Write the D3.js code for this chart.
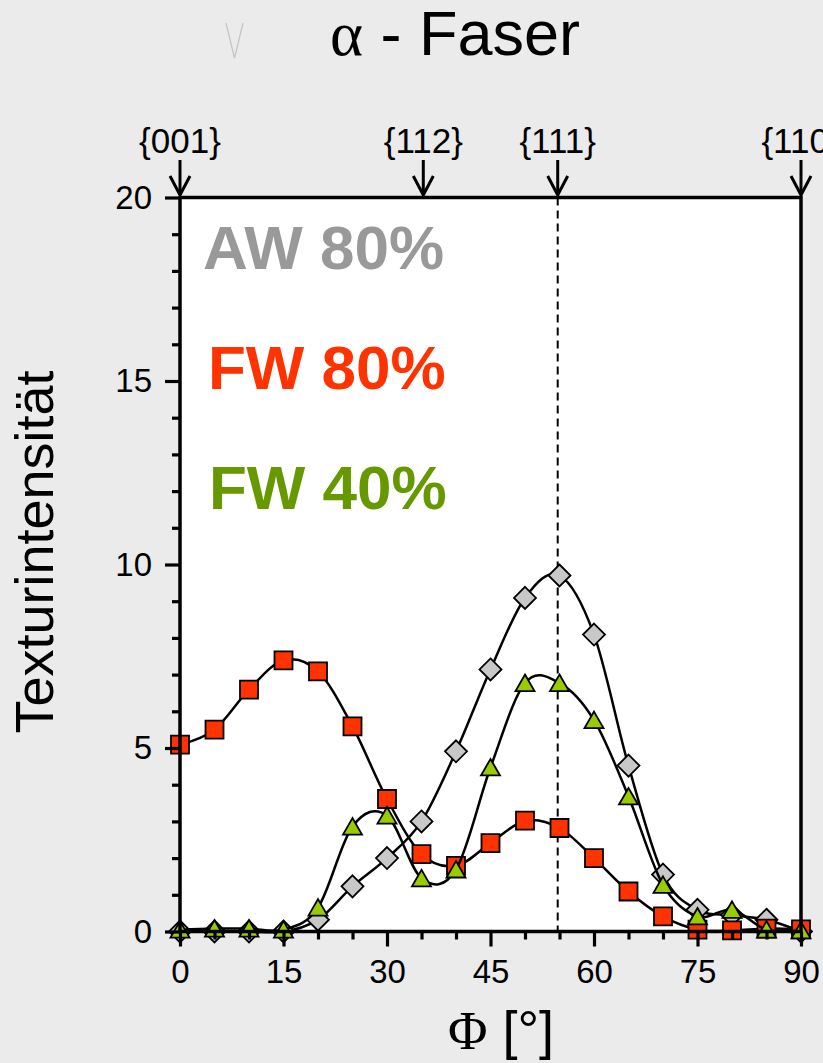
<!DOCTYPE html>
<html>
<head>
<meta charset="utf-8">
<script src="https://cdn.jsdelivr.net/npm/d3@7"></script>
<style>
  body { margin: 0; background: #ebebeb; }
  svg { display: block; font-family: "Liberation Sans", Arial, sans-serif; }
</style>
</head>
<body>
<script>
// data (Phi in degrees, texture intensity)
const phi = [0, 5, 10, 15, 20, 25, 30, 35, 40, 45, 50, 55, 60, 65, 70, 75, 80, 85, 90];
const aw80 = [0, 0, 0, 0, 0.32, 1.23, 2.0, 3.0, 4.91, 7.14, 9.09, 9.7, 8.09, 4.52, 1.55, 0.59, 0.45, 0.32, 0];
const fw80 = [5.09, 5.5, 6.59, 7.39, 7.09, 5.59, 3.61, 2.11, 1.79, 2.41, 3.02, 2.82, 2.0, 1.09, 0.41, 0.05, 0.03, 0.08, 0.06];
const fw40 = [0.05, 0.08, 0.08, 0.05, 0.65, 2.86, 3.16, 1.45, 1.69, 4.47, 6.77, 6.77, 5.76, 3.68, 1.27, 0.41, 0.59, 0.05, 0.03];

const xMajor = [0, 15, 30, 45, 60, 75, 90];
const xMinor = [5, 10, 20, 25, 35, 40, 50, 55, 65, 70, 80, 85];
const yMajor = [0, 5, 10, 15, 20];
const yMinor = [1, 2, 3, 4, 6, 7, 8, 9, 11, 12, 13, 14, 16, 17, 18, 19];

// crystal orientations marked on top
const planes = ["{001}", "{112}", "{111}", "{110}"];
const planeAngles = [0, 35.26, 54.74, 90];

const series = [
  { name: "AW 80%", values: aw80, fill: "#c8c8c8", text: "#999999", shape: "diamond" },
  { name: "FW 80%", values: fw80, fill: "#ff3300", text: "#ff3300", shape: "square" },
  { name: "FW 40%", values: fw40, fill: "#99cc00", text: "#669900", shape: "triangle" }
];

const W = 823, H = 1063;
const plot = { left: 180, right: 801, top: 197.5, bottom: 931.5 };

const svg = d3.select("body").append("svg")
  .attr("width", W)
  .attr("height", H);

const x = d3.scaleLinear().domain([0, 90]).range([plot.left, plot.right]);
const y = d3.scaleLinear().domain([0, 20]).range([plot.bottom, plot.top]);

// title
const title = svg.append("text")
  .attr("x", 330)
  .attr("y", 55)
  .style("font-size", "63px")
  .attr("fill", "#000");
title.append("tspan").style("font-family", "'Liberation Serif', 'Times New Roman', serif").text("α");
title.append("tspan").text(" - Faser");

// faint stray mark left of the title
svg.append("path")
  .attr("d", "M226,23 L234.5,58 L243,23")
  .attr("fill", "none")
  .attr("stroke", "#c4c4c4")
  .attr("stroke-width", 1.2);

// plot background
svg.append("rect")
  .attr("x", plot.left)
  .attr("y", plot.top)
  .attr("width", plot.right - plot.left)
  .attr("height", plot.bottom - plot.top)
  .attr("fill", "#fff");

// dashed line at {111}
svg.append("line")
  .attr("x1", x(planeAngles[2]))
  .attr("x2", x(planeAngles[2]))
  .attr("y1", y(20))
  .attr("y2", y(0))
  .attr("stroke", "#000")
  .attr("stroke-width", 2)
  .attr("stroke-dasharray", "8,5");

// legend texts
const legendY = [269, 389, 509];
const legendX = [203, 208, 209];
series.forEach((s, i) => {
  svg.append("text")
    .attr("x", legendX[i])
    .attr("y", legendY[i])
    .style("font-size", "62px")
    .style("font-weight", "bold")
    .attr("fill", s.text)
    .text(s.name);
});

const line = d3.line()
  .x((d, i) => x(phi[i]))
  .y(d => y(d))
  .curve(d3.curveCardinal.tension(0));

function marker(shape) {
  if (shape === "square") return "M-9,-9H9V9H-9Z";
  if (shape === "diamond") return "M0,-11L11,0L0,11L-11,0Z";
  return "M0,-8.5L9.5,8L-9.5,8Z";
}

series.forEach(s => {
  const g = svg.append("g");
  g.append("path")
    .datum(s.values)
    .attr("d", line)
    .attr("fill", "none")
    .attr("stroke", "#000")
    .attr("stroke-width", 2.5);
  g.selectAll("path.pt")
    .data(s.values)
    .enter()
    .append("path")
    .attr("class", "pt")
    .attr("transform", (d, i) => "translate(" + x(phi[i]) + "," + y(d) + ")")
    .attr("d", marker(s.shape))
    .attr("fill", s.fill)
    .attr("stroke", "#000")
    .attr("stroke-width", 1.8);
});

// frame
svg.append("rect")
  .attr("x", plot.left)
  .attr("y", plot.top)
  .attr("width", plot.right - plot.left)
  .attr("height", plot.bottom - plot.top)
  .attr("fill", "none")
  .attr("stroke", "#000")
  .attr("stroke-width", 3.5);

// x axis ticks
const xMinorAxis = svg.append("g")
  .attr("transform", "translate(0," + plot.bottom + ")")
  .call(d3.axisBottom(x).tickValues(xMinor).tickSize(8).tickSizeOuter(0).tickFormat(""));
const xMajorAxis = svg.append("g")
  .attr("transform", "translate(0," + plot.bottom + ")")
  .call(d3.axisBottom(x).tickValues(xMajor).tickSize(15).tickSizeOuter(0).tickPadding(13));
xMajorAxis.selectAll("text").style("font-size", "33px").attr("fill", "#000");

// y axis ticks
const yMinorAxis = svg.append("g")
  .attr("transform", "translate(" + plot.left + ",0)")
  .call(d3.axisLeft(y).tickValues(yMinor).tickSize(8).tickSizeOuter(0).tickFormat(""));
const yMajorAxis = svg.append("g")
  .attr("transform", "translate(" + plot.left + ",0)")
  .call(d3.axisLeft(y).tickValues(yMajor).tickSize(15).tickSizeOuter(0).tickPadding(13));
yMajorAxis.selectAll("text").style("font-size", "33px").attr("fill", "#000");

[xMinorAxis, xMajorAxis, yMinorAxis, yMajorAxis].forEach(a => {
  a.select(".domain").remove();
  a.selectAll("line").attr("stroke", "#000").attr("stroke-width", 3.2);
  a.attr("font-family", null).attr("font-size", null);
});

// orientation arrows and labels
planeAngles.forEach((a, i) => {
  const cx = x(a);
  svg.append("line")
    .attr("x1", cx).attr("x2", cx)
    .attr("y1", 160).attr("y2", 195)
    .attr("stroke", "#000")
    .attr("stroke-width", 3);
  svg.append("path")
    .attr("d", "M" + (cx - 10) + ",176 L" + cx + ",195 L" + (cx + 10) + ",176")
    .attr("fill", "none")
    .attr("stroke", "#000")
    .attr("stroke-width", 3);
  svg.append("text")
    .attr("x", cx)
    .attr("y", 153)
    .attr("text-anchor", "middle")
    .style("font-size", "35px")
    .text(planes[i]);
});

// axis labels
svg.append("text")
  .attr("transform", "translate(53,552) rotate(-90)")
  .attr("text-anchor", "middle")
  .style("font-size", "54px")
  .text("Texturintensität");

const xl = svg.append("text")
  .attr("x", 501)
  .attr("y", 1049)
  .attr("text-anchor", "middle")
  .style("font-size", "54px");
xl.append("tspan").style("font-family", "'Liberation Serif', 'Times New Roman', serif").text("Φ");
xl.append("tspan").text(" [°]");
</script>
</body>
</html>
